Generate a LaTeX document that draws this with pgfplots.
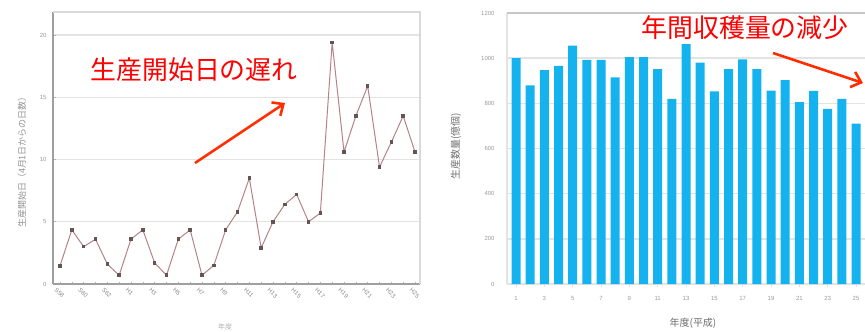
\documentclass[border=0pt]{standalone}
\usepackage{fontspec}
\setmainfont{Noto Sans CJK JP}
\newfontfamily\latin{Liberation Sans}
\usepackage{pgfplots}
\pgfplotsset{compat=1.18}
\usetikzlibrary{arrows.meta}
\definecolor{linec}{RGB}{180,130,135}
\definecolor{markc}{RGB}{100,85,85}
\definecolor{barc}{RGB}{20,178,238}
\definecolor{annot}{RGB}{255,0,0}
\definecolor{arrowc}{RGB}{255,45,0}
\begin{document}
\begin{tikzpicture}[x=1bp,y=1bp]
\path[use as bounding box] (0,0) rectangle (865,331);
% ---------------- left chart ----------------
\begin{axis}[
  at={(53bp,47bp)}, anchor=south west, scale only axis,
  width=367bp, height=272bp,
  xmin=0.41, xmax=31.42, ymin=0, ymax=21.85,
  axis x line*=bottom, axis y line*=left,
  axis line style={gray!75, line width=1.5bp, -},
  ytick={0,5,10,15,20},
  ymajorgrids, grid style={gray!22, line width=1.4bp},
  xtick={1,3,...,31},
  xticklabels={S58,S60,S62,H1,H3,H5,H7,H9,H11,H13,H15,H17,H19,H21,H23,H25},
  minor xtick={2,4,...,30},
  tick style={gray!60, line width=0.6bp},
  major tick length=2.5bp, minor tick length=2bp,
  /pgf/number format/assume math mode=true,
  yticklabel style={font=\latin\fontsize{6}{6}\selectfont, text=gray!80, xshift=-3bp},
  xticklabel style={font=\latin\fontsize{6}{6}\selectfont, text=gray!95, rotate=-45, anchor=north west, xshift=0bp, yshift=-4bp, inner sep=0.5bp},
  clip=false,
]
\addplot[color=linec, line width=1bp, mark=square*, mark size=1.3bp,
  mark options={fill=markc, draw=markc}] coordinates {
(1,1.45) (2,4.35) (3,3.0) (4,3.6) (5,1.6) (6,0.7) (7,3.6) (8,4.35)
(9,1.7) (10,0.7) (11,3.6) (12,4.35) (13,0.7) (14,1.5) (15,4.35) (16,5.8)
(17,8.5) (18,2.9) (19,5.0) (20,6.4) (21,7.2) (22,5.0) (23,5.7) (24,19.4)
(25,10.6) (26,13.5) (27,15.9) (28,9.4) (29,11.4) (30,13.5) (31,10.6)
};
\draw[gray!30, line width=1.2bp] (rel axis cs:0,1) -- (rel axis cs:1,1) -- (rel axis cs:1,0);
\end{axis}
\node[rotate=90, font=\fontsize{9}{9}\selectfont, text=gray!85] at (22,171) {生産開始日（4月1日からの日数）};
\node[font=\fontsize{7}{7}\selectfont, text=gray!60] at (225,4) {年度};
% ---------------- right chart ----------------
\begin{axis}[
  at={(507bp,47bp)}, anchor=south west, scale only axis,
  width=368bp, height=271bp,
  xmin=0.365, xmax=26.34, ymin=0, ymax=1200,
  axis x line*=bottom, axis y line*=left,
  axis line style={gray!22, line width=2.5bp, -},
  ybar, bar width=9bp,
  ytick={0,200,...,1200},
  ymajorgrids, grid style={gray!22, line width=1.5bp},
  xtick={1,3,...,25},
  tick style={gray!25, line width=0.8bp}, major tick length=2.5bp,
  /pgf/number format/assume math mode=true,
  /pgf/number format/1000 sep={},
  yticklabel style={font=\latin\fontsize{6}{6}\selectfont, text=gray!80, xshift=-9bp},
  xticklabel style={font=\latin\fontsize{6}{6}\selectfont, text=gray!80, yshift=-6bp},
  clip=false,
]
\addplot[fill=barc, draw=none] coordinates {
(1,1000) (2,880) (3,947) (4,966) (5,1055) (6,992) (7,992) (8,915)
(9,1005) (10,1005) (11,951) (12,820) (13,1062) (14,980) (15,853)
(16,951) (17,995) (18,951) (19,856) (20,903) (21,805) (22,855)
(23,776) (24,820) (25,710)
};
\draw[gray!45, line width=2bp] (rel axis cs:0,1) -- (rel axis cs:1,1);
\end{axis}
\node[rotate=90, font=\fontsize{10}{10}\selectfont, text=gray!85!black] at (456,185) {生産数量(億個)};
\node[font=\fontsize{10}{10}\selectfont, text=gray!85!black] at (693,8) {年度(平成)};
% ---------------- annotations ----------------
\node[font=\fontsize{26}{30}\selectfont, text=annot] at (194,261) {生産開始日の遅れ};
\draw[arrowc, line width=2.6bp, -{Straight Barb[length=9bp,width=16bp]}] (195,168) -- (285,228);
\node[font=\fontsize{26}{30}\selectfont, text=annot] at (745,303) {年間収穫量の減少};
\draw[arrowc, line width=2.6bp, -{Straight Barb[length=9bp,width=16bp]}] (773,278) -- (863,248);
\end{tikzpicture}
\end{document}
